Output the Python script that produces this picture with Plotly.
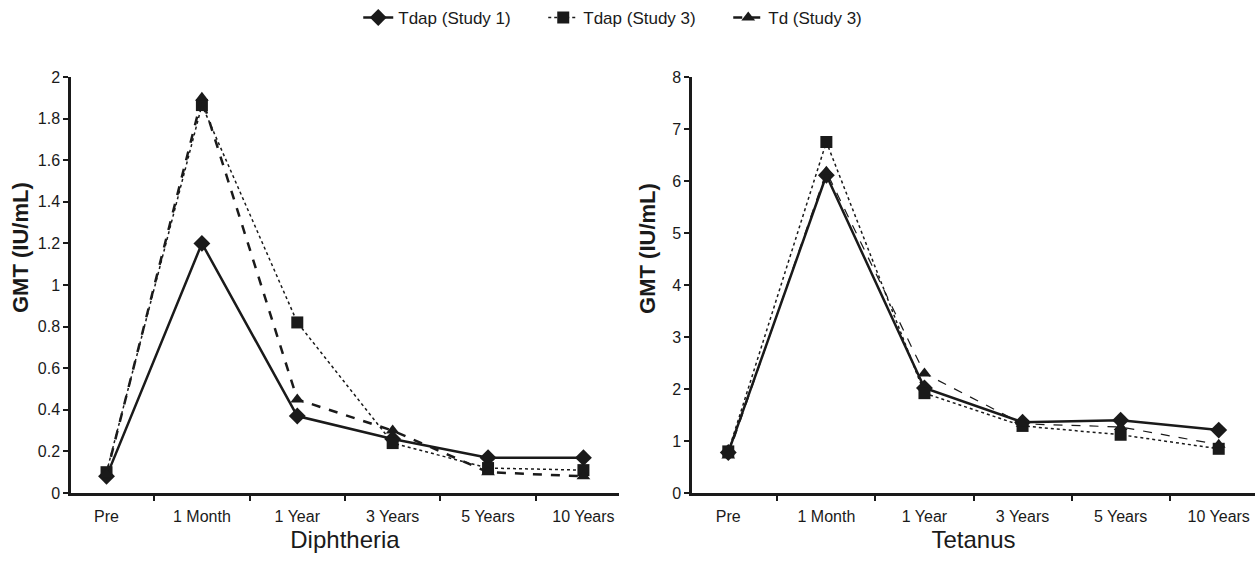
import plotly.graph_objects as go
from plotly.subplots import make_subplots

categories = ["Pre", "1 Month", "1 Year", "3 Years", "5 Years", "10 Years"]

diph_tdap_s1 = [0.08, 1.20, 0.37, 0.26, 0.17, 0.17]
diph_tdap_s3 = [0.10, 1.865, 0.82, 0.24, 0.12, 0.11]
diph_td_s3 = [0.09, 1.90, 0.45, 0.30, 0.10, 0.08]

tet_tdap_s1 = [0.78, 6.11, 2.02, 1.36, 1.40, 1.21]
tet_tdap_s3 = [0.80, 6.75, 1.92, 1.29, 1.12, 0.85]
tet_td_s3 = [0.72, 6.18, 2.30, 1.33, 1.27, 0.93]

series_names = ["Tdap (Study 1)", "Tdap (Study 3)", "Td (Study 3)"]
panel_titles = ["Diphtheria", "Tetanus"]
y_title = "GMT (IU/mL)"

fig = make_subplots(rows=1, cols=2, horizontal_spacing=0.06)

styles = [
    dict(dash="solid", wl=2.5, wr=2.5, symbol="diamond", size=13),
    dict(dash="dot", wl=1.5, wr=1.5, symbol="square", size=12),
    dict(dash="dash", wl=2.5, wr=1.2, symbol="triangle-up", size=12),
]

left = [diph_tdap_s1, diph_tdap_s3, diph_td_s3]
right = [tet_tdap_s1, tet_tdap_s3, tet_td_s3]
ink = "#1a1a1a"

for i, (name, st) in enumerate(zip(series_names, styles)):
    fig.add_trace(go.Scatter(
        x=categories, y=left[i], name=name, mode="lines+markers",
        line=dict(color=ink, dash=st["dash"], width=st["wl"]),
        marker=dict(symbol=st["symbol"], size=st["size"], color=ink),
        legendgroup=name, showlegend=True), row=1, col=1)
    fig.add_trace(go.Scatter(
        x=categories, y=right[i], name=name, mode="lines+markers",
        line=dict(color=ink, dash=st["dash"], width=st["wr"]),
        marker=dict(symbol=st["symbol"], size=st["size"], color=ink),
        legendgroup=name, showlegend=False), row=1, col=2)

axis_common = dict(showline=True, linecolor=ink, linewidth=2.5, ticks="outside",
                   tickcolor=ink, tickwidth=2, ticklen=5, showgrid=False, zeroline=False,
                   tickfont=dict(size=16, color=ink))

fig.update_xaxes(**axis_common, type="category", tickson="boundaries",
                 ticklabelstandoff=7,
                 title_font=dict(size=24, color=ink), title_standoff=8)
fig.update_xaxes(title_text=panel_titles[0], domain=[0, 0.4628], row=1, col=1)
fig.update_xaxes(title_text=panel_titles[1], domain=[0.5245, 1.0], row=1, col=2)

fig.update_yaxes(**axis_common)
fig.update_yaxes(range=[0, 2], dtick=0.2, tick0=0, row=1, col=1)
fig.update_yaxes(range=[0, 8], dtick=1, tick0=0, row=1, col=2)

for xpos in (-0.0422, 0.4873):
    fig.add_annotation(text="<b>" + y_title + "</b>", xref="paper", yref="paper",
                       x=xpos, y=0.589, xanchor="center", yanchor="middle",
                       textangle=-90, showarrow=False,
                       font=dict(size=22, color=ink))

fig.update_layout(
    width=1257, height=561,
    margin=dict(l=71, r=2, t=77, b=68, autoexpand=False),
    paper_bgcolor="white", plot_bgcolor="white",
    font=dict(family="Liberation Sans, Arial, sans-serif", color=ink),
    legend=dict(orientation="h", xref="container", yref="container",
                x=0.285, xanchor="left", y=0.968, yanchor="middle",
                font=dict(size=17), entrywidth=140, entrywidthmode="pixels",
                tracegroupgap=0),
)

fig.write_html("out.html",
               config={"displayModeBar": False},
               post_script="document.body.style.margin='0';"
                           "document.documentElement.style.overflow='hidden';")
